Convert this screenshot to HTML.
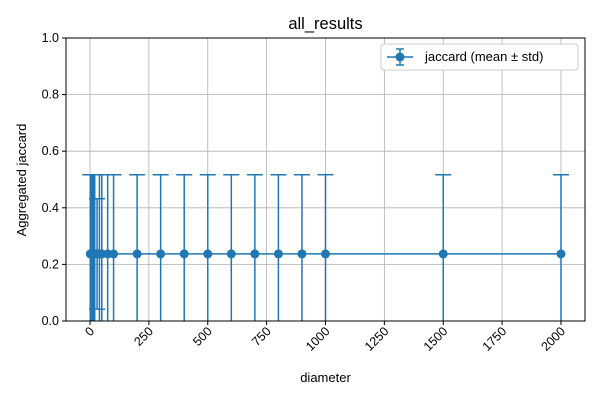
<!DOCTYPE html>
<html><head><meta charset="utf-8"><style>
body{margin:0;background:#fff;font-family:"Liberation Sans","DejaVu Sans",sans-serif}
</style></head><body>
<svg id="c" width="600" height="400" xmlns="http://www.w3.org/2000/svg"></svg>
<script>
const xs=[1,5,10,15,20,30,40,50,75,100,200,300,400,500,600,700,800,900,1000,1500,2000];
const means=[0.237,0.237,0.237,0.237,0.237,0.237,0.237,0.237,0.237,0.237,0.237,0.237,0.237,0.237,0.237,0.237,0.237,0.237,0.237,0.237,0.237];
const stds=[0.28,0.28,0.28,0.28,0.28,0.195,0.28,0.28,0.28,0.28,0.28,0.28,0.28,0.28,0.28,0.28,0.28,0.28,0.28,0.28,0.28];
const xticks=[0,250,500,750,1000,1250,1500,1750,2000];
const yticks=[0,0.2,0.4,0.6,0.8,1.0];
const L=66,R=585,T=38,B=321,xmin=-102,xmax=2102;
const X=v=>L+(v-xmin)/(xmax-xmin)*(R-L);
const Y=v=>B-(v-0)/(1-0)*(B-T);
const svg=document.getElementById('c');const NS='http://www.w3.org/2000/svg';
function mk(t,a,p){const e=document.createElementNS(NS,t);for(const k in a)e.setAttribute(k,a[k]);(p||svg).appendChild(e);return e;}
const C='#1f77b4';
const g=mk('g',{});


xticks.forEach(t=>{mk('line',{x1:X(t),x2:X(t),y1:T,y2:B,stroke:'#b0b0b0','stroke-width':0.8},g);});
yticks.forEach(t=>{mk('line',{x1:L,x2:R,y1:Y(t),y2:Y(t),stroke:'#b0b0b0','stroke-width':0.8},g);});
const cp=mk('clipPath',{id:'cp'});mk('rect',{x:L,y:T,width:R-L,height:B-T},cp);
const s=mk('g',{'clip-path':'url(#cp)'});


let d='';xs.forEach((x,i)=>{d+=(i?'L':'M')+X(x)+','+Y(means[i]);});
mk('path',{d:d,stroke:C,'stroke-width':1.5,fill:'none'},s);
xs.forEach((x,i)=>{
 const eb=mk('g',{},s);
 
 
 const hi=Y(means[i]+stds[i]),lo=Y(means[i]-stds[i]);
 mk('line',{x1:X(x),x2:X(x),y1:hi,y2:lo,stroke:C,'stroke-width':1.5},eb);
 mk('line',{x1:X(x)-8,x2:X(x)+8,y1:hi,y2:hi,stroke:C,'stroke-width':1.5},eb);
 mk('line',{x1:X(x)-8,x2:X(x)+8,y1:lo,y2:lo,stroke:C,'stroke-width':1.5},eb);
 const p=mk('circle',{cx:X(x),cy:Y(means[i]),r:4.5,fill:C},s);
 
 
});
mk('rect',{x:L,y:T,width:R-L,height:B-T,fill:'none',stroke:'#000','stroke-width':1});
xticks.forEach(t=>{mk('line',{x1:X(t),x2:X(t),y1:B,y2:B+4,stroke:'#000'});
 const ax=X(t)+5,ay=B+11;
 const tx=mk('text',{x:ax,y:ay,'font-size':12.5,'text-anchor':'end',transform:`rotate(-45 ${ax} ${ay})`});tx.textContent=t;
 
 });
yticks.forEach(t=>{mk('line',{x1:L-4,x2:L,y1:Y(t),y2:Y(t),stroke:'#000'});
 const tx=mk('text',{x:L-7,y:Y(t)+4,'font-size':12.5,'text-anchor':'end'});tx.textContent=t.toFixed(1);
 
 });
const ti=mk('text',{x:325.5,y:29,'font-size':16.5,'text-anchor':'middle'});ti.textContent='all_results';


const xl=mk('text',{x:325.5,y:382,'font-size':13,'text-anchor':'middle'});xl.textContent='diameter';


const yl=mk('text',{x:26,y:180,'font-size':13,'text-anchor':'middle',transform:'rotate(-90 26 180)'});yl.textContent='Aggregated jaccard';


const lg=mk('g',{});


mk('rect',{x:381,y:44,width:197,height:26,rx:3,fill:'#fff',stroke:'#ccc'},lg);
mk('line',{x1:387,x2:413,y1:57,y2:57,stroke:C,'stroke-width':1.5},lg);
mk('line',{x1:400,x2:400,y1:49,y2:65,stroke:C,'stroke-width':1.5},lg);
mk('line',{x1:396,x2:404,y1:49,y2:49,stroke:C,'stroke-width':1.5},lg);
mk('line',{x1:396,x2:404,y1:65,y2:65,stroke:C,'stroke-width':1.5},lg);
mk('circle',{cx:400,cy:57,r:4.5,fill:C},lg);
const lt=mk('text',{x:425,y:61,'font-size':13},lg);lt.textContent='jaccard (mean ± std)';
</script>
</body></html>
